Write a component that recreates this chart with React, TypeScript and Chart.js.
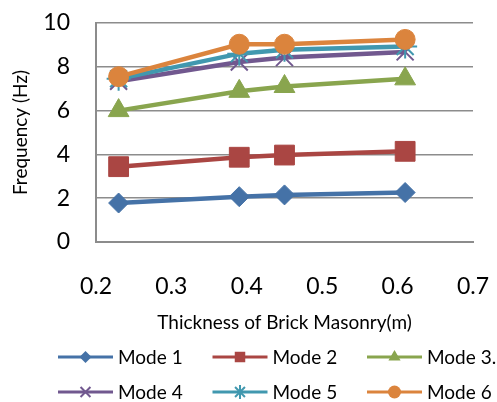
import React, { useEffect, useRef } from 'react';
import { Chart, registerables } from 'chart.js';

Chart.register(...registerables);

// ---- data ----
const thickness = [0.23, 0.39, 0.45, 0.61];
const mode1 = [1.78, 2.07, 2.15, 2.26];
const mode2 = [3.44, 3.87, 3.97, 4.14];
const mode3 = [6.0, 6.88, 7.1, 7.45];
const mode4 = [7.34, 8.22, 8.42, 8.68];
const mode5 = [7.45, 8.6, 8.78, 8.93];
const mode6 = [7.55, 9.03, 9.03, 9.25];
const seriesNames = ['Mode 1', 'Mode 2', 'Mode 3.', 'Mode 4', 'Mode 5', 'Mode 6'];
const seriesValues = [mode1, mode2, mode3, mode4, mode5, mode6];
const xMin = 0.2, xMax = 0.7, xStep = 0.1;
const yMin = 0, yMax = 10, yStep = 2;
const xTitle = 'Thickness of Brick Masonry(m)';
const yTitle = 'Frequency (Hz)';

// ---- styles ----
const colors = ['#4572A7', '#AA4643', '#89A54E', '#71588F', '#4198AF', '#DB843D'];
const styles = ['rectRot', 'rect', 'triangle', 'crossRot', 'star', 'circle'];
const radii = [10, 14, 12, 12, 12, 10];
const legendRadii = [6, 7, 7, 7, 7, 6.5];
const FONT = 'Lato, "Open Sans", sans-serif';
const CLEAR = 'rgba(0,0,0,0)';

function drawMarker(ctx: CanvasRenderingContext2D, style: string, x: number, y: number, r: number, color: string) {
  ctx.save();
  ctx.fillStyle = color;
  ctx.strokeStyle = color;
  ctx.lineWidth = 2;
  ctx.beginPath();
  if (style === 'rectRot') {
    ctx.moveTo(x, y - r); ctx.lineTo(x + r, y); ctx.lineTo(x, y + r); ctx.lineTo(x - r, y); ctx.closePath(); ctx.fill();
  } else if (style === 'rect') {
    ctx.rect(x - r * 0.75, y - r * 0.75, r * 1.5, r * 1.5); ctx.fill();
  } else if (style === 'triangle') {
    ctx.moveTo(x, y - r); ctx.lineTo(x + r * 0.87, y + r * 0.5); ctx.lineTo(x - r * 0.87, y + r * 0.5); ctx.closePath(); ctx.fill();
  } else if (style === 'crossRot') {
    const d = r * 0.707;
    ctx.moveTo(x - d, y - d); ctx.lineTo(x + d, y + d); ctx.moveTo(x + d, y - d); ctx.lineTo(x - d, y + d); ctx.stroke();
  } else if (style === 'star') {
    const d = r * 0.707;
    ctx.moveTo(x - d, y - d); ctx.lineTo(x + d, y + d); ctx.moveTo(x + d, y - d); ctx.lineTo(x - d, y + d);
    ctx.moveTo(x, y - r); ctx.lineTo(x, y + r); ctx.stroke();
  } else {
    ctx.arc(x, y, r, 0, Math.PI * 2); ctx.fill();
  }
  ctx.restore();
}

const legendPlugin = {
  id: 'excelLegend',
  afterDraw(chart: any) {
    const ctx: CanvasRenderingContext2D = chart.ctx;
    ctx.save();
    ctx.font = `19px ${FONT}`;
    ctx.textBaseline = 'middle';
    ctx.textAlign = 'left';
    chart.data.datasets.forEach((ds: any, i: number) => {
      const col = i % 3;
      const row = Math.floor(i / 3);
      const x0 = 58 + col * 154.5;
      const y = 357 + row * 35;
      ctx.strokeStyle = ds.borderColor;
      ctx.lineWidth = 3;
      ctx.beginPath();
      ctx.moveTo(x0, y);
      ctx.lineTo(x0 + 55, y);
      ctx.stroke();
      drawMarker(ctx, styles[i], x0 + 27.5, y, legendRadii[i], ds.borderColor);
      ctx.fillStyle = '#000';
      ctx.fillText(ds.label, x0 + 60, y + 1);
    });
    ctx.restore();
  },
};

export default function App() {
  const canvasRef = useRef<HTMLCanvasElement | null>(null);

  useEffect(() => {
    const canvas = canvasRef.current;
    if (!canvas) return;
    const datasets = seriesNames.map((name, i) => ({
      label: name,
      data: thickness.map((x, j) => ({ x, y: seriesValues[i][j] })),
      borderColor: colors[i],
      backgroundColor: colors[i],
      borderWidth: 4.5,
      pointStyle: styles[i],
      pointRadius: radii[i],
      pointHoverRadius: radii[i],
      pointBorderWidth: styles[i] === 'crossRot' || styles[i] === 'star' ? 2 : 1,
      pointBackgroundColor: colors[i],
      pointBorderColor: colors[i],
      tension: 0,
      order: seriesNames.length - i,
    }));

    const chart = new Chart(canvas, {
      type: 'line',
      data: { datasets },
      plugins: [legendPlugin],
      options: {
        animation: false,
        responsive: true,
        maintainAspectRatio: false,
        layout: { padding: { top: 23, right: 24, left: 0, bottom: 67.6 } },
        plugins: {
          legend: { display: false },
          tooltip: { enabled: false },
        },
        scales: {
          x: {
            type: 'linear',
            min: xMin,
            max: xMax,
            grid: { display: true, color: CLEAR, drawTicks: true, tickLength: 31, tickColor: CLEAR },
            border: { display: true, color: '#8c8c8c', width: 2 },
            ticks: {
              stepSize: xStep,
              padding: 0,
              color: '#000',
              font: { family: FONT, size: 23 },
              callback: (v: any) => Number(v).toFixed(1),
            },
            title: {
              display: true,
              text: xTitle,
              color: '#000',
              font: { family: FONT, size: 19 },
              padding: { top: 0, bottom: 0 },
            },
            afterFit: (scale: any) => { scale.height = 92.4; },
          },
          y: {
            min: yMin,
            max: yMax,
            grid: { color: '#8c8c8c', lineWidth: 1.5, drawTicks: true, tickLength: 26, tickColor: CLEAR },
            border: { display: true, color: '#8c8c8c', width: 2 },
            ticks: {
              stepSize: yStep,
              padding: 0,
              color: '#000',
              font: { family: FONT, size: 23 },
            },
            title: {
              display: true,
              text: yTitle,
              color: '#000',
              font: { family: FONT, size: 19 },
              padding: { top: 9, bottom: 0 },
            },
            afterFit: (scale: any) => { scale.width = 96; },
          },
        },
      } as any,
    });
    return () => chart.destroy();
  }, []);

  return (
    <div style={{ position: 'fixed', left: 0, top: 0, width: 497, height: 402, background: '#fff' }}>
      <canvas ref={canvasRef} />
    </div>
  );
}
